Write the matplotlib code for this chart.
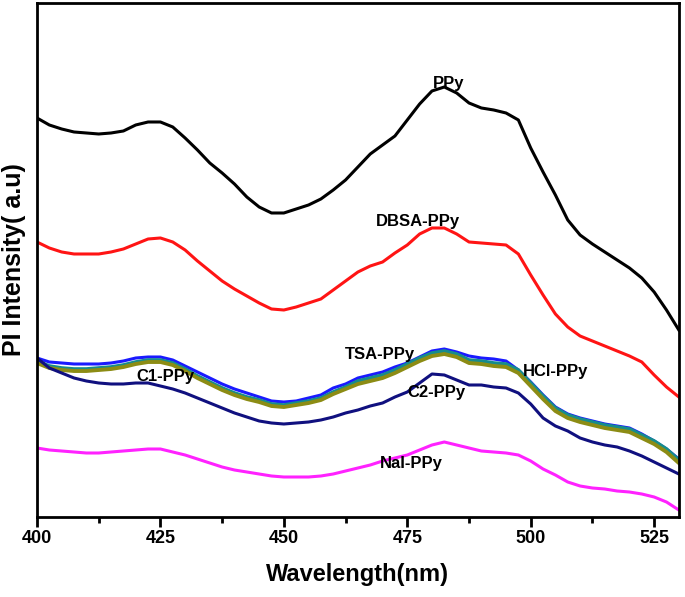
import numpy as np
import matplotlib
matplotlib.use('Agg')
import matplotlib.pyplot as plt

plt.rcParams['font.family'] = ['Liberation Sans Narrow', 'Liberation Sans', 'DejaVu Sans']
plt.rcParams['font.weight'] = 'bold'

# wavelength grid (nm)
wavelength = np.arange(400, 530.01, 2.5)

# PL intensity (a.u.)
ppy = [399, 392, 388, 385, 384, 383, 384, 386, 392, 395, 395, 390, 379, 367, 354, 344, 333, 320,
       310, 304, 304, 308, 312, 318, 327, 337, 350, 363, 372, 381, 397, 413, 426, 430, 424, 414,
       409, 407, 404, 397, 369, 345, 322, 297, 282, 273, 265, 257, 249, 239, 225, 207, 187]
dbsa = [275, 269, 265, 263, 263, 263, 265, 268, 273, 278, 279, 275, 267, 256, 246, 236, 228, 221,
        214, 208, 207, 210, 214, 218, 227, 236, 245, 251, 255, 264, 272, 283, 289, 289, 283, 275,
        274, 273, 272, 263, 242, 222, 203, 190, 181, 176, 171, 166, 161, 155, 142, 130, 120]
tsa = [159, 155, 154, 153, 153, 153, 154, 156, 159, 160, 160, 157, 151, 145, 139, 133, 128, 124,
       120, 116, 115, 116, 119, 122, 129, 133, 139, 142, 145, 150, 154, 160, 166, 168, 165, 161,
       159, 158, 156, 147, 135, 122, 110, 103, 99, 96, 93, 91, 89, 83, 76, 68, 58]
hcl = [156, 151, 149, 148, 148, 149, 150, 152, 155, 157, 157, 154, 148, 141, 135, 129, 124, 120,
       117, 113, 112, 114, 116, 119, 125, 130, 136, 139, 142, 147, 153, 159, 164, 166, 163, 157,
       156, 154, 153, 147, 134, 121, 109, 102, 98, 95, 92, 90, 88, 82, 76, 68, 57]
c1 = [154, 149, 147, 146, 146, 147, 148, 150, 153, 155, 155, 152, 146, 139, 133, 127, 122, 118,
      115, 111, 110, 112, 114, 117, 123, 128, 133, 136, 139, 144, 150, 156, 161, 163, 160, 154,
      153, 151, 150, 144, 131, 118, 106, 99, 95, 92, 89, 87, 85, 79, 73, 65, 54]
c2 = [159, 149, 144, 139, 136, 134, 133, 133, 134, 134, 131, 128, 124, 119, 114, 109, 104, 100,
      96, 94, 93, 94, 95, 97, 100, 104, 107, 111, 114, 120, 125, 134, 143, 142, 137, 132,
      132, 130, 129, 124, 113, 99, 91, 86, 79, 75, 72, 70, 66, 61, 55, 49, 43]
nai = [69, 67, 66, 65, 64, 64, 65, 66, 67, 68, 68, 65, 62, 58, 54, 50, 47, 45,
       43, 41, 40, 40, 40, 41, 43, 46, 49, 52, 56, 59, 62, 67, 72, 75, 72, 69,
       66, 65, 64, 62, 56, 48, 42, 35, 31, 29, 28, 26, 25, 23, 20, 15, 7]

series = [
    (ppy, 'black', 2.2),
    (dbsa, '#ff1414', 2.2),
    (tsa, '#1a1aff', 2.2),
    (hcl, '#168c8c', 2.6),
    (c1, '#8c8c14', 2.8),
    (c2, '#10107f', 2.2),
    (nai, '#ff22ff', 2.2),
]

labels = ['PPy', 'DBSA-PPy', 'TSA-PPy', 'HCl-PPy', 'C1-PPy', 'C2-PPy', 'NaI-PPy']
label_x = [483.4, 477.1, 469.4, 505.0, 426.0, 481.0, 475.9]
label_y = [433, 295, 162, 145, 140, 124, 54]

fig = plt.figure(figsize=(6.85, 5.97), dpi=100)
ax = fig.add_axes([0.054, 0.134, 0.937, 0.861])

for y, c, lw in series:
    ax.plot(wavelength, y, color=c, lw=lw, solid_joinstyle='round')

for t, x, y in zip(labels, label_x, label_y):
    ax.text(x, y, t, ha='center', va='center', fontsize=12, fontweight='bold')

ax.set_xlim(400, 530)
ax.set_ylim(0, 514)
ax.set_xticks(np.arange(400, 526, 25))
ax.set_xticks(np.arange(412.5, 530, 25), minor=True)
ax.set_yticks([])
ax.tick_params(axis='x', which='major', direction='out', length=7, width=2, labelsize=13, pad=2)
ax.tick_params(axis='x', which='minor', direction='out', length=4, width=2)
for lab in ax.get_xticklabels():
    lab.set_fontweight('bold')
for s in ax.spines.values():
    s.set_linewidth(2)

ax.set_xlabel('Wavelength(nm)', fontsize=17, fontweight='bold', labelpad=12)
ax.set_ylabel('PI Intensity( a.u)', fontsize=18, fontweight='bold', labelpad=8)

fig.savefig('out.png', dpi=100)
